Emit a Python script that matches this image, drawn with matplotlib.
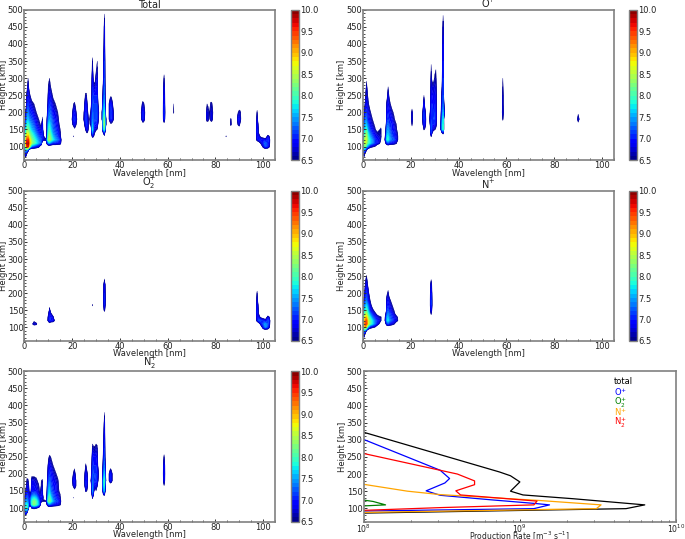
import numpy as np
import matplotlib
matplotlib.use("Agg")
import matplotlib.pyplot as plt

HEIGHTS = [60,70,80,90,100,110,120,130,140,150,165,180,200,225,250,275,300,350,400,450,500]
BACKGROUND = 6.0

# Each entry: wavelength [nm], lowest height [km], log10 production rate going up the HEIGHTS list
TOTAL = [
 (0,80,[6.8,7.2,7.6,7.6,7.3,7.1,6.9,6.7,6.4]),
 (.5,70,[6.6,7.0,7.6,8.4,8.8,8.5,8.2,7.9,7.6,7.3,7.0,6.6]),
 (1,80,[6.6,7.6,9.5,9.8,9.5,9.0,8.5,8.2,7.8,7.5,7.2,6.9,6.7,6.3]),
 (1.5,90,[7.0,9.7,9.9,9.6,9.1,8.6,8.3,7.9,7.6,7.4,7.1,6.9,6.8,6.5]),
 (2,100,[8.6,9.2,9.0,8.6,8.3,8.0,7.7,7.4,7.1,6.9,6.7,6.3]),
 (3,100,[7.3,8.4,8.3,8.1,7.9,7.6,7.4,7.2,7.0,6.7,6.2]),
 (4,100,[7.1,8.1,8.0,7.8,7.6,7.4,7.2,7.0,6.8,6.5]),
 (5,100,[6.9,7.8,7.7,7.5,7.3,7.1,6.9,6.8,6.5]),
 (6,100,[6.7,7.5,7.4,7.2,7.0,6.9,6.7,6.5]),
 (7,110,[7.2,7.2,7.0,6.8,6.7,6.4]),
 (7.5,120,[6.9,7.1,7.0,7.0,6.9,6.6,6.3]),
 (8,120,[6.7,6.6,6.4]),
 (9,120,[6.7]),
 (9.5,110,[6.9,7.4,7.0,6.9,6.8,6.8,6.7,6.5]),
 (10,110,[7.4,8.4,8.3,8.1,7.9,7.7,7.4,7.2,7.0,6.8,6.6,6.3]),
 (10.5,110,[7.5,8.5,8.4,8.2,8.0,7.8,7.5,7.3,7.1,6.9,6.7,6.5]),
 (11,110,[7.3,8.2,8.1,7.9,7.7,7.5,7.4,7.2,7.0,6.8,6.5,6.2]),
 (12,110,[7.0,7.8,7.6,7.4,7.3,7.2,7.1,6.9,6.7,6.4]),
 (13,110,[7.0,7.5,7.3,7.2,7.1,7.0,6.9,6.8,6.5]),
 (14,110,[6.9,7.3,7.1,7.0,6.9,6.8,6.7,6.5]),
 (15,110,[6.8,7.0,6.7,6.6,6.5,6.3]),
 (20,165,[6.4,6.6,6.4]),
 (20.5,165,[6.8,7.0,6.9,6.5]),
 (20.5,130,[6.6]),
 (21,150,[6.4,6.9,7.1,6.9,6.6,6.1]),
 (21.5,150,[6.2,6.7,6.9,6.7,6.3]),
 (22,165,[6.2,6.5,6.2]),
 (25,165,[6.4,6.7,6.6,6.3]),
 (25.5,150,[6.5,6.9,7.0,7.0,6.9,6.6,6.2]),
 (26,140,[6.5,6.9,7.1,7.1,7.0,6.9,6.6,6.2]),
 (26.5,140,[6.5,6.8,6.9,6.8,6.6,6.3]),
 (27,150,[6.2,6.4,6.4,6.2]),
 (27.8,165,[6.6,6.8,6.6,6.3]),
 (28.5,130,[6.8,7.4,7.8,7.6,7.4,7.3,7.2,7.1,7.0,6.9,6.6,6.1]),
 (29,130,[6.6,6.8,7.0,7.1,7.1,7.1,7.1,7.0,6.7,6.3]),
 (29.5,140,[6.5,6.8,7.0,7.1,7.1,7.1,7.0,6.7,6.3]),
 (30,150,[6.7,7.0,7.2,7.2,7.1,7.0,6.9,6.7,6.2]),
 (30.5,150,[6.5,6.9,7.1,7.1,7.1,7.0,6.9,6.8,6.5]),
 (31,165,[6.3,6.6,6.7,6.3]),
 (32.5,180,[6.6,6.6,6.3]),
 (33,140,[6.6,7.5,7.7,7.7,7.5,7.2,6.9,6.7,6.5,6.3,6.1]),
 (33.5,130,[6.4,7.0,8.0,8.4,8.2,7.9,7.6,7.4,7.3,7.2,7.1,6.9,6.8,6.4]),
 (34,150,[6.4,6.8,6.8,6.5]),
 (35.5,180,[6.6,6.6,6.6,6.2]),
 (36,165,[6.4,7.0,7.1,7.0,6.4]),
 (36.5,165,[6.4,7.0,7.1,6.9,6.4]),
 (37,165,[6.2,6.8,6.8,6.5,6.2]),
 (37.5,180,[6.4,6.4]),
 (49,180,[6.5,6.6,6.3]),
 (49.5,165,[6.2,7.0,7.0,6.7]),
 (50,165,[6.2,6.9,6.9,6.6]),
 (50.5,180,[6.4,6.5,6.2]),
 (58.5,165,[6.3,7.0,7.1,7.0,6.9,6.8,6.6,6.1]),
 (62.5,200,[6.6,6.5]),
 (76.5,165,[6.2,6.8,6.8,6.5,6.1]),
 (77,165,[6.2,6.7,6.7,6.4]),
 (77.5,180,[6.4,6.5]),
 (78,165,[6.1,6.7,6.7,6.6,6.1]),
 (78.5,165,[6.2,6.8,6.8,6.6,6.1]),
 (79,180,[6.4,6.5,6.3]),
 (84.5,130,[6.6]),
 (86.5,165,[6.7,6.6]),
 (89.5,165,[6.6,6.9,6.5]),
 (90,165,[6.8,7.0,6.7]),
 (90.5,165,[6.3,6.7,6.6]),
 (97.5,120,[6.8,6.9,7.0,7.0,6.9,6.8,6.6,6.2]),
 (98,120,[7.0,6.9,6.6,6.6,6.5,6.2]),
 (99,110,[6.6,7.0,6.4]),
 (100,100,[6.7,7.0,6.9,6.2]),
 (100.5,100,[7.0,7.2,7.0]),
 (101,100,[7.2,7.3,6.8]),
 (102,100,[7.0,7.0,7.0,6.8]),
 (102.5,100,[6.7,6.9,7.0,6.6]),
]

O_PLUS = [
 (0,80,[6.6,7.0,7.4,7.4,7.2,7.0,6.8,6.6,6.3]),
 (.5,70,[6.5,6.9,7.5,8.1,8.4,8.2,7.9,7.6,7.4,7.1,6.8,6.4]),
 (1,80,[6.4,7.1,8.2,8.6,8.6,8.4,8.1,7.8,7.6,7.4,7.1,6.8,6.5,6.2]),
 (1.5,90,[6.6,7.6,8.4,8.6,8.5,8.3,8.0,7.6,7.3,7.1,6.9,6.8,6.7,6.4]),
 (2,100,[7.4,8.0,8.1,8.0,7.8,7.5,7.3,7.0,6.9,6.7,6.5,6.2]),
 (3,100,[6.8,7.7,7.7,7.5,7.3,7.1,6.9,6.8,6.6,6.2]),
 (4,100,[6.6,7.4,7.4,7.2,7.0,6.9,6.7,6.5,6.2]),
 (5,100,[6.5,7.1,7.1,6.9,6.8,6.6,6.4]),
 (6,110,[6.9,6.9,6.8,6.6,6.2]),
 (7,110,[6.6,6.8,6.7,6.6,6.5,6.3]),
 (7.5,120,[6.5,6.6,6.6,6.6,6.3]),
 (9.5,110,[6.6,7.0,6.8,6.6,6.5,6.3]),
 (10,110,[7.0,7.8,7.7,7.5,7.4,7.2,7.0,6.9,6.7,6.3]),
 (10.5,110,[7.2,7.9,7.8,7.6,7.5,7.3,7.1,7.0,6.9,6.8,6.5,6.2]),
 (11,110,[7.0,7.6,7.5,7.4,7.3,7.1,7.0,6.9,6.7,6.4]),
 (12,110,[6.9,7.3,7.2,7.1,7.0,7.0,6.9,6.7,6.3]),
 (13,110,[6.8,7.2,7.0,7.0,6.9,6.8,6.6,6.4]),
 (14,110,[6.6,6.9,6.8,6.7,6.6,6.5,6.2]),
 (14.5,120,[6.6,6.6,6.5,6.3]),
 (20.5,150,[6.3,6.6,6.8,6.7,6.2]),
 (25,165,[6.5,6.7,6.6,6.2]),
 (25.5,150,[6.6,7.0,7.1,7.1,6.9,6.5,6.1]),
 (26,150,[6.4,6.8,6.9,6.7,6.2]),
 (28,165,[6.5,6.7,6.5]),
 (28.5,130,[6.6,7.1,7.2,7.2,7.1,7.0,7.0,6.9,6.8,6.7,6.45]),
 (29,140,[6.5,6.9,7.0,7.0,7.0,7.0,6.9,6.7,6.3]),
 (29.5,150,[6.7,7.0,7.1,7.0,6.9,6.8,6.7,6.3]),
 (30,150,[6.6,7.0,7.1,7.1,7.0,6.9,6.8,6.6,6.1]),
 (30.5,150,[6.4,6.8,6.9,6.9,6.8,6.8,6.7,6.6,6.4]),
 (33,140,[6.5,7.4,7.4,7.2,7.0,6.8,6.7,6.5,6.4,6.2]),
 (33.5,140,[6.8,7.9,7.9,7.8,7.6,7.3,7.2,7.1,7.1,7.0,6.9,6.7,6.4]),
 (34,200,[6.7,6.4]),
 (58.5,165,[6.2,6.6,6.8,6.7,6.7,6.6,6.5,6.1]),
 (90,165,[6.3,6.8,6.4]),
 (90.5,180,[6.5]),
]

O2_PLUS = [
 (3.5,110,[6.6]),
 (4,110,[6.8,6.4]),
 (5,110,[6.7]),
 (10,120,[6.8,6.7,6.5]),
 (10.5,110,[6.3,7.0,7.0,6.9,6.8,6.3]),
 (11,120,[7.0,7.0,6.7,6.2]),
 (12,120,[6.9,6.7]),
 (12.5,120,[6.6]),
 (28.5,165,[6.6]),
 (33.5,140,[6.2,6.7,7.0,7.1,7.0,6.9,6.3]),
 (97.5,120,[6.8,6.9,7.0,7.0,6.9,6.8,6.6,6.2]),
 (98,120,[7.2,6.9,6.6,6.6,6.5,6.2]),
 (99,110,[6.8,7.2,6.4]),
 (100,100,[6.9,7.2,7.0,6.2]),
 (100.5,100,[7.2,7.4,7.0]),
 (101,100,[7.4,7.5,6.8]),
 (102,100,[7.1,7.2,7.1,6.8]),
 (102.5,100,[6.7,7.0,7.1,6.6]),
]

N_PLUS = [
 (0,80,[6.6,7.0,7.3,7.4,7.1,6.9,6.8,6.6,6.3]),
 (.5,70,[6.5,6.9,7.5,8.4,8.9,8.7,8.2,7.8,7.5,7.2,6.8,6.3]),
 (1,80,[6.3,7.2,9.1,9.5,9.3,8.9,8.4,7.9,7.5,7.2,6.9,6.7,6.3]),
 (1.5,90,[6.5,8.4,9.5,9.4,9.0,8.5,8.1,7.7,7.3,7.1,6.9,6.55]),
 (2,100,[7.6,8.8,8.7,8.4,8.0,7.7,7.4,7.0,6.9,6.5,6.1]),
 (3,100,[6.8,8.1,8.1,7.8,7.4,7.0,6.8,6.5,6.1]),
 (4,100,[6.6,7.7,7.7,7.3,7.0,6.7,6.2]),
 (5,100,[6.5,7.3,7.3,7.0,6.7,6.3]),
 (6,110,[6.9,7.0,6.8,6.3]),
 (7,110,[6.4,6.8,6.6,6.2]),
 (7.5,120,[6.6,6.6]),
 (9.5,110,[6.5,6.9,6.8,6.5]),
 (10,110,[7.0,7.6,7.5,7.2,7.1,6.9,6.8,6.4]),
 (10.5,110,[7.2,7.8,7.6,7.4,7.2,7.0,6.9,6.65,6.2]),
 (11,110,[7.0,7.5,7.3,7.2,7.0,6.9,6.7,6.2]),
 (12,110,[6.8,7.2,7.1,7.0,6.8,6.6,6.3]),
 (13,110,[6.6,7.0,6.9,6.7,6.5,6.2]),
 (14,120,[6.8,6.7,6.2]),
 (14.5,120,[6.6,6.5]),
 (28.5,130,[6.3,6.6,6.9,7.1,7.1,7.0,6.8,6.3]),
]

N2_PLUS = [
 (0,90,[6.7,7.0,7.2,7.0,6.7]),
 (.5,80,[6.6,7.4,7.8,7.7,7.4,7.0,6.8,6.6,6.3]),
 (1,90,[7.2,8.0,7.9,7.5,7.3,7.1,6.9,6.8,6.6,6.3]),
 (1.5,100,[7.4,7.6,7.3,7.1,7.0,6.9,6.8,6.6,6.2]),
 (2,110,[6.8,7.0,6.9,6.7,6.5,6.4]),
 (2.5,110,[6.9,7.2,7.1,6.6,6.2]),
 (3,100,[6.6,7.9,7.9,7.6,7.2,7.0,6.9,6.8,6.3]),
 (4,100,[6.7,8.3,8.3,7.8,7.3,7.0,6.9,6.8,6.3]),
 (5,100,[6.6,8.0,8.0,7.6,7.2,6.9,6.8,6.7,6.2]),
 (6,100,[6.4,7.5,7.4,7.1,6.8,6.7,6.6,6.2]),
 (6.5,110,[6.9,7.0,6.8,6.6,6.3]),
 (7,120,[6.7,6.9,6.8,6.8,6.6,6.5,6.1]),
 (7.5,120,[6.6,6.9,6.9,6.8,6.7,6.6,6.1]),
 (8,120,[6.6,6.4]),
 (9,120,[6.6]),
 (9.5,110,[6.7,7.2,6.9,6.8,6.7,6.6,6.5,6.2]),
 (10,110,[7.2,8.2,8.0,7.7,7.6,7.4,7.2,7.0,6.8,6.4]),
 (10.5,110,[7.3,8.3,8.1,7.9,7.7,7.5,7.3,7.1,6.9,6.6,6.1]),
 (11,110,[7.2,8.0,7.8,7.5,7.3,7.2,7.1,7.0,6.8,6.5,6.1]),
 (12,110,[7.0,7.5,7.3,7.2,7.1,7.0,6.9,6.8,6.5,6.1]),
 (13,110,[6.9,7.2,7.1,7.0,6.9,6.9,6.8,6.6,6.2]),
 (14,110,[6.8,7.1,6.9,6.8,6.7,6.7,6.6,6.3]),
 (15,110,[6.6,6.8,6.6,6.5,6.3]),
 (20,165,[6.3,6.5,6.2]),
 (20.5,165,[6.7,6.9,6.6,6.2]),
 (20.5,130,[6.55]),
 (21,150,[6.3,6.9,7.0,6.8,6.3]),
 (21.5,150,[6.2,6.6,6.6,6.3]),
 (25.2,165,[6.5,6.6,6.5,6.2]),
 (25.7,150,[6.7,7.0,7.0,6.9,6.6,6.1]),
 (26.2,150,[6.5,6.8,6.9,6.7,6.2]),
 (28,165,[6.5,6.7,6.5,6.2]),
 (28.5,130,[6.7,7.2,7.5,7.4,7.3,7.2,7.1,7.0,6.7,6.3]),
 (29,140,[6.5,6.8,7.0,7.1,7.1,7.0,6.9,6.6,6.1]),
 (29.5,165,[6.8,7.0,7.1,7.0,6.9,6.6,6.2]),
 (30,150,[6.5,6.9,7.1,7.1,7.0,6.9,6.7,6.3]),
 (30.5,165,[6.6,6.9,7.0,6.9,6.8,6.6,6.3]),
 (31,180,[6.4,6.6,6.2]),
 (32.7,165,[6.5,6.6,6.6,6.2]),
 (33,140,[6.6,7.3,7.5,7.5,7.1,6.9,6.7,6.5,6.3]),
 (33.5,140,[6.8,7.6,7.9,8.0,7.7,7.4,7.2,7.1,7.0,6.8,6.3]),
 (34,180,[6.7,6.5,6.2]),
 (35.5,180,[6.6,6.6]),
 (36,180,[7.0,7.0,6.2]),
 (36.5,180,[6.8,6.8,6.1]),
 (58.5,150,[6.1,6.5,6.9,7.0,6.9,6.6,6.2]),
 (78.5,200,[6.5]),
]

PANEL_TITLES = ["Total", r"O$^{+}$", r"O$_2^{+}$", r"N$^{+}$", r"N$_2^{+}$"]
PANEL_DATA = [TOTAL, O_PLUS, O2_PLUS, N_PLUS, N2_PLUS]

# Height-integrated profiles: height [km] and log10 production rate
TOTAL_H = [322,206,195,177,150,139,128,110,99,86]
TOTAL_R = [8.0,8.87,8.94,9.0,8.94,9.02,9.34,9.80,9.68,8.0]
OP_H = [301,211,187,174,151,138,125,114,110,99,92]
OP_R = [8.0,8.49,8.55,8.52,8.40,8.49,8.81,9.10,9.19,9.09,8.0]
O2P_H = [124,120,110,107]
O2P_R = [8.0,8.06,8.14,8.0]
NP_H = [170,150,140,123,110,99,88]
NP_R = [8.0,8.28,8.49,9.12,9.52,9.49,8.0]
N2P_H = [260,213,200,180,169,151,139,121,110,102,94]
N2P_R = [8.0,8.47,8.60,8.71,8.71,8.59,8.62,9.11,9.09,8.49,8.0]

PROFILES = [("total","black",TOTAL_H,TOTAL_R),(r"O$^{+}$","blue",OP_H,OP_R),
            (r"O$_2^{+}$","green",O2P_H,O2P_R),(r"N$^{+}$","orange",NP_H,NP_R),
            (r"N$_2^{+}$","red",N2P_H,N2P_R)]
KEY_HEIGHTS = [470,440,409,380,350]

COLORBAR_TICKS = [6.5,7.0,7.5,8.0,8.5,9.0,9.5,10.0]
LEVELS = np.arange(6.5,10.01,0.1)
FS = 6
FLANK = 0.8
GREY = "#808080"
W, H = 685, 539

plt.rcParams.update({"font.family":"DejaVu Sans","font.size":FS,"mathtext.default":"regular",
                     "axes.edgecolor":GREY,"axes.linewidth":1.2,"text.color":"#222222",
                     "axes.labelcolor":"#222222","xtick.labelcolor":"#222222","ytick.labelcolor":"#222222"})

def grid_for(columns):
    cols = {}
    for wl,h0,vals in columns:
        col = cols.setdefault(wl, np.full(len(HEIGHTS), BACKGROUND))
        i = HEIGHTS.index(h0)
        col[i:i+len(vals)] = vals
    wls = sorted(cols)
    for wl in wls:
        for side in (-FLANK,FLANK):
            if not any(0 < (o-wl)*np.sign(side) <= 1.01 for o in wls):
                cols[wl+side] = np.full(len(HEIGHTS), BACKGROUND)
    xs = sorted(cols)
    return np.array(xs), np.array(HEIGHTS,float), np.array([cols[x] for x in xs]).T

def axes_px(x0,x1,y0,y1):
    return fig.add_axes([x0/W, 1-y1/H, (x1-x0)/W, (y1-y0)/H])

def style(ax,x0,x1,y0,y1,label_drop=8.5):
    ax.minorticks_on()
    ax.tick_params(which="major",direction="in",length=2.5,width=0.7,pad=0.8,color="#333333",labelsize=FS)
    ax.tick_params(which="minor",direction="in",length=1.2,width=0.6,color="#333333")
    ax.set_ylim(60,500)
    ax.set_yticks(range(100,501,50))
    ax.set_ylabel("Height [km]",fontsize=FS)
    ax.yaxis.set_label_coords(-16.5/(x1-x0),0.5)
    ax.xaxis.set_label_coords(0.5,-label_drop/(y1-y0))

fig = plt.figure(figsize=(W/100,H/100),dpi=100)
LEFT = [(24.5,275,291,299),(363,614,629.3,637.3)]
ROWS = [(9.7,160.3),(190.7,341),(371.3,521.7)]
POS = [(0,0),(1,0),(0,1),(1,1),(0,2)]

for title,data,(c,r) in zip(PANEL_TITLES,PANEL_DATA,POS):
    x0,x1,cx0,cx1 = LEFT[c]
    y0,y1 = ROWS[r]
    ax = axes_px(x0,x1,y0,y1)
    xs,ys,zs = grid_for(data)
    cf = ax.contourf(xs,ys,zs,levels=LEVELS,cmap="jet",vmin=6.5,vmax=10,antialiased=True)
    cf.set_edgecolor("face")
    cf.set_linewidth(0.25)
    ax.set_xlim(0,105)
    ax.set_xticks([0,20,40,60,80,100])
    style(ax,x0,x1,y0,y1)
    ax.set_xlabel("Wavelength [nm]",fontsize=FS)
    ax.set_title(title,fontsize=7,pad=0.6)
    cax = axes_px(cx0,cx1,y0,y1)
    cb = fig.colorbar(cf,cax=cax,ticks=COLORBAR_TICKS)
    cb.ax.set_yticklabels([f"{t:.1f}" for t in COLORBAR_TICKS])
    cb.ax.minorticks_off()
    cb.ax.tick_params(length=0,pad=0.8,labelsize=FS)
    cb.outline.set_edgecolor(GREY)
    cb.outline.set_linewidth(1.0)

ax = axes_px(363.7,676,371.3,522)
for (label,color,h,r),ky in zip(PROFILES,KEY_HEIGHTS):
    ax.plot(10**np.array(r),h,color=color,lw=0.9)
    ax.text(0.80,ky,label,color=color,fontsize=FS,va="center",transform=ax.get_yaxis_transform())
ax.set_xscale("log")
ax.set_xlim(1e8,1e10)
style(ax,363.7,676,371.3,522,label_drop=7.5)
ax.tick_params(axis="x",which="major",pad=0.2,labelsize=5.6)
ax.set_xlabel(r"Production Rate [m$^{-3}$ s$^{-1}$]",fontsize=5.5)

fig.savefig("out.png",dpi=100)
